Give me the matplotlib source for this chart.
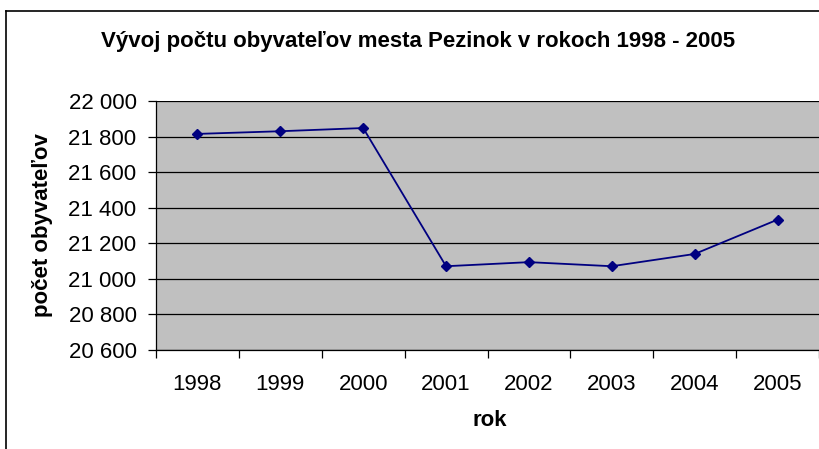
import matplotlib.pyplot as plt
from matplotlib.lines import Line2D
from matplotlib.ticker import FuncFormatter, FixedLocator

roky = ['1998', '1999', '2000', '2001', '2002', '2003', '2004', '2005']
obyvatelia = [21815, 21830, 21848, 21071, 21094, 21071, 21140, 21333]
y_ticks = [20600, 20800, 21000, 21200, 21400, 21600, 21800, 22000]

plt.rcParams['font.family'] = ['Liberation Sans', 'DejaVu Sans']

W, H = 819, 449
fig = plt.figure(figsize=(W / 100, H / 100), dpi=100)
ax = fig.add_axes([156 / W, 1 - 350 / H, (W - 156) / W, (350 - 101) / H])

# chart frame (extends past the right and bottom edge like the source)
fig.add_artist(Line2D([6 / W, 6 / W], [-0.1, 1 - 11 / H], transform=fig.transFigure,
                      color='black', lw=1.2))
fig.add_artist(Line2D([6 / W, 1.1], [1 - 11 / H, 1 - 11 / H], transform=fig.transFigure,
                      color='black', lw=1.2))

ax.set_facecolor('#C0C0C0')
x = list(range(len(roky)))
ax.plot(x, obyvatelia, color='#000080', lw=1.3, marker='D', markersize=5.5, zorder=3)

ax.set_xlim(-0.5, len(roky) - 0.5)
ax.set_ylim(20600, 22000)
ax.set_yticks(y_ticks)
ax.yaxis.set_major_formatter(FuncFormatter(lambda v, p: f'{int(v):,}'.replace(',', ' ')))
ax.grid(axis='y', color='black', lw=0.9)
ax.set_axisbelow(True)

ax.set_xticks(x)
ax.set_xticklabels(roky)
ax.xaxis.set_minor_locator(FixedLocator([i - 0.5 for i in range(len(roky) + 1)]))
ax.tick_params(axis='x', which='major', length=0, pad=17, labelsize=16)
ax.tick_params(axis='x', which='minor', length=6, width=0.9, direction='out')
ax.tick_params(axis='y', length=6, width=0.9, pad=8, labelsize=16)

for s in ['top', 'right']:
    ax.spines[s].set_visible(False)
for s in ['left', 'bottom']:
    ax.spines[s].set_linewidth(0.9)

fig.text(418 / W, 1 - 42 / H, 'Vývoj počtu obyvateľov mesta Pezinok v rokoch 1998 - 2005',
         ha='center', va='center', fontsize=16, fontweight='bold')
fig.text(43 / W, 1 - 225 / H, 'počet obyvateľov', rotation=90,
         ha='center', va='center', fontsize=16, fontweight='bold')
fig.text(490 / W, 1 - 420 / H, 'rok', ha='center', va='center', fontsize=16, fontweight='bold')

fig.savefig('out.png', dpi=100)
